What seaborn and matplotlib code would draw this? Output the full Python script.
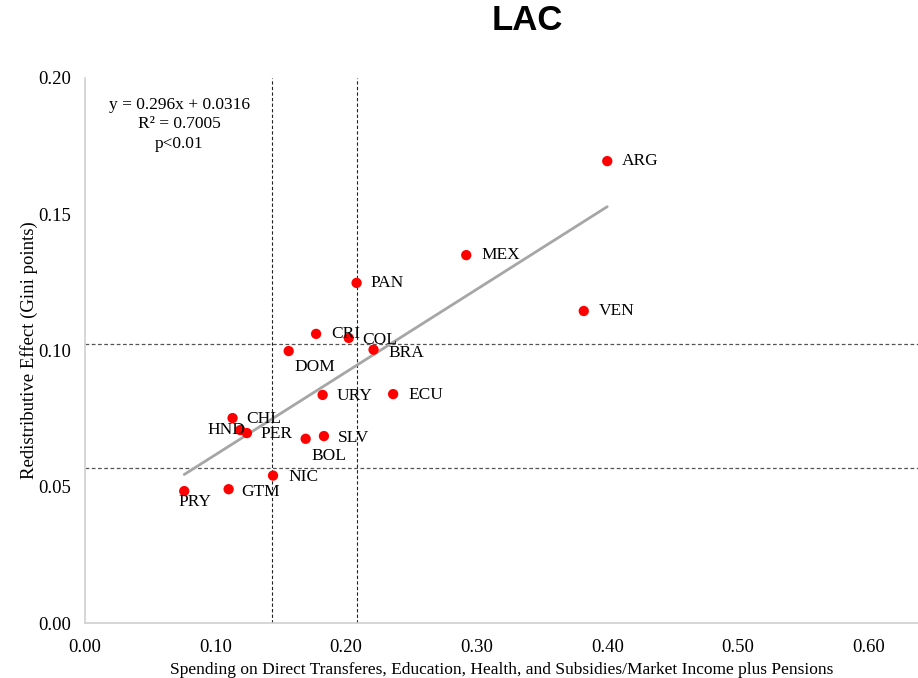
import matplotlib
matplotlib.use("Agg")
import matplotlib.pyplot as plt
import seaborn as sns
import pandas as pd
import numpy as np

countries = ["ARG", "MEX", "PAN", "VEN", "CRI", "COL", "DOM", "BRA", "URY", "ECU",
             "CHL", "HND", "PER", "BOL", "SLV", "NIC", "GTM", "PRY"]
spending = [0.400, 0.292, 0.208, 0.382, 0.177, 0.202, 0.156, 0.221, 0.182, 0.236,
            0.113, 0.119, 0.124, 0.169, 0.183, 0.144, 0.110, 0.076]
redistrib = [0.1695, 0.1350, 0.1248, 0.1145, 0.1061, 0.1046, 0.0998, 0.1003, 0.0837, 0.0840,
             0.0752, 0.0708, 0.0697, 0.0676, 0.0686, 0.0541, 0.0491, 0.0484]
# label offsets in pixels (dx, dy) relative to point, text anchor
label_offsets = {
    "ARG": (15, 0, "left"), "MEX": (15, 0, "left"), "PAN": (14, 0, "left"),
    "VEN": (15, 0, "left"), "CRI": (15, 0, "left"), "COL": (14, -2, "left"),
    "DOM": (6, -16, "left"), "BRA": (15, -3, "left"), "URY": (14, -1, "left"),
    "ECU": (15, -1, "left"), "CHL": (14, -1, "left"), "HND": (5, 0, "right"),
    "PER": (14, -1, "left"), "BOL": (6, -17, "left"), "SLV": (14, -2, "left"),
    "NIC": (15, -1, "left"), "GTM": (13, -3, "left"), "PRY": (-6, -11, "left"),
}
vlines = [0.1435, 0.2084]
hlines = [0.1024, 0.0569]
xticks = [0.0, 0.1, 0.2, 0.3, 0.4, 0.5, 0.6]
yticks = [0.0, 0.05, 0.10, 0.15, 0.20]

df = pd.DataFrame({"country": countries, "x": spending, "y": redistrib})

sns.set_theme(style="white")
plt.rcParams["font.family"] = ["Liberation Serif", "DejaVu Serif"]
plt.rcParams["text.color"] = "black"
plt.rcParams["axes.labelcolor"] = "black"
plt.rcParams["xtick.color"] = "black"
plt.rcParams["ytick.color"] = "black"

fig = plt.figure(figsize=(9.18, 6.78), dpi=100)
ax = fig.add_axes([85 / 918, 1 - 623 / 678, 1 - 85 / 918, (623 - 78) / 678])

for v in vlines:
    ax.axvline(v, color="#222222", lw=0.8, ls=(0, (3, 2)), zorder=1)
for h in hlines:
    ax.axhline(h, color="#555555", lw=0.9, ls=(0, (3, 2)), zorder=1)

sns.regplot(data=df, x="x", y="y", scatter=False, ci=None, truncate=True, ax=ax,
            line_kws={"color": "#a6a6a6", "lw": 2.0, "zorder": 2})
sns.scatterplot(data=df, x="x", y="y", ax=ax, color="#ff0000", s=55,
                edgecolor="none", zorder=3)

for c, xv, yv in zip(countries, spending, redistrib):
    dx, dy, ha = label_offsets[c]
    ax.annotate(c, (xv, yv), xytext=(dx * 0.72, dy * 0.72), textcoords="offset points",
                ha=ha, va="center", fontsize=12.5, color="black", zorder=4)

ax.text(0.072, 0.1830, "y = 0.296x + 0.0316\nR² = 0.7005\np<0.01", ha="center", va="center",
        fontsize=12.5, linespacing=1.3)

ax.set_xlim(0, 0.638)
ax.set_ylim(0, 0.20)
ax.set_xticks(xticks)
ax.set_yticks(yticks)
ax.set_xticklabels([f"{t:.2f}" for t in xticks], fontsize=13.5)
ax.set_yticklabels([f"{t:.2f}" for t in yticks], fontsize=13.5)
ax.tick_params(axis="x", length=0, pad=11.5)
ax.tick_params(axis="y", length=0, pad=10)
ax.set_xlabel("Spending on Direct Transferes, Education, Health, and Subsidies/Market Income plus Pensions",
              fontsize=12.5, labelpad=4)
ax.set_ylabel("Redistributive Effect (Gini points)", fontsize=13.5, labelpad=0)
for s in ["top", "right"]:
    ax.spines[s].set_visible(False)
for s in ["left", "bottom"]:
    ax.spines[s].set_color("#d0d0d0")
    ax.spines[s].set_linewidth(1.2)
ax.grid(False)

fig.text(527 / 918, 1 - 21 / 678, "LAC", ha="center", va="center", fontsize=25,
         fontweight="bold", family=["Liberation Sans", "DejaVu Sans"])

fig.savefig("out.png", dpi=100)
